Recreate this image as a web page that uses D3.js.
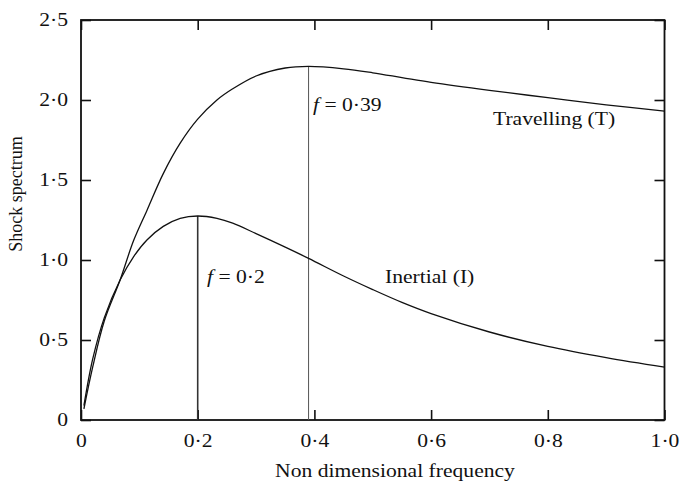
<!DOCTYPE html>
<html lang="en">
<head>
    <meta charset="UTF-8">
    <title>Shock spectrum</title>
    <script src="https://d3js.org/d3.v7.min.js"></script>
    <style>
        body {
            margin: 0;
            background: #fff;
            font-family: "Liberation Serif", "DejaVu Serif", serif;
        }
        svg text {
            font-family: "Liberation Serif", "DejaVu Serif", serif;
            fill: #111;
        }
    </style>
</head>
<body>
    <svg id="chart" width="681" height="481"></svg>

    <script>
        // values
        const freq = [0.005, 0.02, 0.04, 0.067, 0.09, 0.113, 0.141, 0.17, 0.2, 0.233, 0.26,
                      0.3, 0.35, 0.39, 0.45, 0.5, 0.55, 0.6, 0.7, 0.8, 0.9, 1.0];
        const travelling = [0.07, 0.33, 0.62, 0.875, 1.12, 1.31, 1.54, 1.73, 1.88, 2.0, 2.07,
                            2.15, 2.2, 2.21, 2.195, 2.17, 2.14, 2.11, 2.06, 2.015, 1.97, 1.93];
        const inertial = [0.09, 0.38, 0.64, 0.875, 1.02, 1.125, 1.21, 1.26, 1.275, 1.26, 1.23,
                          1.165, 1.08, 1.01, 0.9, 0.815, 0.735, 0.665, 0.55, 0.46, 0.39, 0.33];
        const xTicks = [0, 0.2, 0.4, 0.6, 0.8, 1.0];
        const yTicks = [0, 0.5, 1.0, 1.5, 2.0, 2.5];
        const peaks = [
            { f: 0.2, v: 1.275, label: "0·2", color: "#333", w: 1.6, tx: 207, ty: 283 },
            { f: 0.39, v: 2.21, label: "0·39", color: "#555", w: 1, tx: 313, ty: 111 }
        ];

        const margin = { top: 20, right: 16.5, bottom: 61, left: 81 };
        const width = 681 - margin.left - margin.right;
        const height = 481 - margin.top - margin.bottom;
        const stretch = 1.2; // the printed type is wider than it is tall

        const svg = d3.select("#chart")
            .append("g")
            .attr("transform", `translate(${margin.left},${margin.top})`);

        const x = d3.scaleLinear().domain([0, 1]).range([0, width]);
        const y = d3.scaleLinear().domain([0, 2.5]).range([height, 0]);

        const fmt = d => d === 0 ? "0" : d3.format(".1f")(d).replace(".", "·");

        // wide horizontal label at page coordinates
        const label = (px, py, anchor) => svg.append("g")
            .attr("transform", `translate(${px - margin.left},${py - margin.top}) scale(${stretch},1)`)
            .append("text")
            .attr("text-anchor", anchor || "start")
            .style("font-size", "18px");

        // axes, ticks pointing inward on all four sides
        const bottom = svg.append("g")
            .attr("transform", `translate(0,${height})`)
            .call(d3.axisBottom(x).tickValues(xTicks).tickSize(-10).tickFormat(fmt));
        bottom.selectAll("text")
            .attr("y", 27).attr("dy", 0)
            .attr("transform", `scale(${stretch},1)`);

        const left = svg.append("g")
            .call(d3.axisLeft(y).tickValues(yTicks).tickSize(-10).tickFormat(fmt));
        left.selectAll("text")
            .attr("x", -13 / stretch)
            .attr("transform", `scale(${stretch},1)`);

        svg.append("g")
            .call(d3.axisTop(x).tickValues(xTicks).tickSize(-10).tickFormat(""));
        svg.append("g")
            .attr("transform", `translate(${width},0)`)
            .call(d3.axisRight(y).tickValues(yTicks).tickSize(-10).tickFormat(""));

        svg.selectAll(".domain").remove();
        svg.selectAll(".tick line").attr("stroke", "#111").attr("stroke-width", 1.6);
        svg.selectAll(".tick text").style("font-size", "18px").attr("fill", "#111");

        svg.append("rect")
            .attr("width", width)
            .attr("height", height)
            .attr("fill", "none")
            .attr("stroke", "#111")
            .attr("stroke-width", 1.8);

        // peak markers
        peaks.forEach(p => {
            svg.append("line")
                .attr("x1", x(p.f)).attr("x2", x(p.f))
                .attr("y1", y(p.v)).attr("y2", height)
                .attr("stroke", p.color)
                .attr("stroke-width", p.w);

            const t = label(p.tx, p.ty);
            t.append("tspan").style("font-style", "italic").text("f");
            t.append("tspan").text(" = " + p.label);
        });

        // curves
        const line = d3.line()
            .x((d, i) => x(freq[i]))
            .y(d => y(d))
            .curve(d3.curveCatmullRom.alpha(0.5));

        [travelling, inertial].forEach(series => {
            svg.append("path")
                .datum(series)
                .attr("d", line)
                .attr("fill", "none")
                .attr("stroke", "#111")
                .attr("stroke-width", 1.3);
        });

        label(493, 125).text("Travelling (T)");
        label(385, 283).text("Inertial (I)");

        // axis titles
        label(395, 477, "middle").text("Non dimensional frequency");

        svg.append("text")
            .attr("transform", "rotate(-90)")
            .attr("x", -(194 - margin.top))
            .attr("y", 22 - margin.left)
            .attr("text-anchor", "middle")
            .style("font-size", "18px")
            .text("Shock spectrum");
    </script>
</body>
</html>
